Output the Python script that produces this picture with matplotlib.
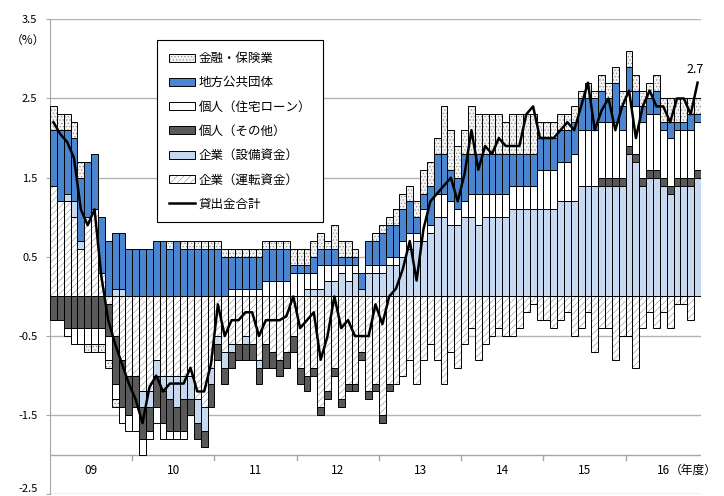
import numpy as np
import matplotlib
matplotlib.use("Agg")
import matplotlib.pyplot as plt
from matplotlib.patches import Patch
from matplotlib.lines import Line2D

plt.rcParams['font.family'] = ['Noto Sans CJK JP', 'DejaVu Sans']
plt.rcParams['axes.unicode_minus'] = False
plt.rcParams['hatch.linewidth'] = 0.45

# monthly, fiscal years 09..16 (Apr 2009 - Feb 2017), contribution to loan growth (%)
years = ["09", "10", "11", "12", "13", "14", "15", "16"]

unten = [1.4, 1.2, 1.2, 1.0, 0.6, 1.0, 1.1, 0.3, -0.1, -0.5, -0.8, -1.0,
         -1.0, -1.2, -1.2, -0.8, -1.0, -1.0, -1.0, -1.0, -1.0, -1.3, -1.4, -0.9,
         -0.5, -0.7, -0.6, -0.6, -0.5, -0.6, -0.8, -0.6, -0.7, -0.8, -0.7, -0.5,
         -0.9, -1.0, -0.9, -1.4, -1.2, -0.9, -1.3, -1.1, -1.1, -0.7, -1.2, -1.1,
         -1.5, -1.1, -1.1, -1.0, -0.8, -1.1, -0.8, -0.6, -0.8, -1.1, -0.7, -0.9,
         -0.6, -0.4, -0.8, -0.6, -0.5, -0.4, -0.5, -0.5, -0.4, -0.2, -0.1, -0.3,
         -0.3, -0.4, -0.3, -0.2, -0.5, -0.4, -0.2, -0.7, -0.4, -0.4, -0.8, -0.5,
         -0.5, -0.9, -0.4, -0.2, -0.4, -0.2, -0.4, -0.1, -0.1, -0.3, 0.0]
setsubi = [0, 0, 0.1, 0.2, 0.1, 0, 0, 0, 0, 0.1, 0.1, 0,
           0, -0.2, -0.2, -0.2, -0.2, -0.3, -0.4, -0.3, -0.3, -0.3, -0.3, -0.2,
           -0.1, -0.2, -0.1, 0, -0.1, 0, -0.1, 0, 0, 0, 0, 0,
           0, 0.1, 0.1, 0.1, 0.2, 0.2, 0.3, 0.2, 0.3, 0.1, 0.3, 0.3,
           0.3, 0.4, 0.4, 0.5, 0.6, 0.7, 0.7, 0.8, 1.0, 1.0, 0.9, 0.9,
           1.0, 1.0, 0.9, 1.0, 1.0, 1.0, 1.0, 1.1, 1.1, 1.1, 1.1, 1.1,
           1.1, 1.1, 1.2, 1.2, 1.2, 1.4, 1.4, 1.4, 1.4, 1.4, 1.4, 1.4,
           1.8, 1.7, 1.4, 1.5, 1.5, 1.4, 1.3, 1.4, 1.4, 1.4, 1.5]
sonota = [-0.3, -0.3, -0.4, -0.4, -0.4, -0.4, -0.4, -0.4, -0.4, -0.6, -0.6, -0.5,
          -0.4, -0.4, -0.3, -0.4, -0.4, -0.4, -0.3, -0.4, -0.2, -0.2, -0.2, -0.3,
          -0.2, -0.2, -0.2, -0.2, -0.2, -0.2, -0.2, -0.3, -0.2, -0.2, -0.2, -0.2,
          -0.2, -0.2, -0.1, -0.1, -0.1, -0.1, -0.1, -0.1, -0.1, -0.1, -0.1, -0.1,
          -0.1, -0.1, 0, 0, 0, 0, 0, 0, 0, 0, 0, 0,
          0, 0, 0, 0, 0, 0, 0, 0, 0, 0, 0, 0,
          0, 0, 0, 0, 0, 0, 0, 0, 0.1, 0.1, 0.1, 0.1,
          0.1, 0.1, 0.1, 0.1, 0.1, 0.1, 0.1, 0.1, 0.1, 0.1, 0.1]
jutaku = [0, 0, -0.1, -0.2, -0.2, -0.2, -0.2, -0.2, -0.3, -0.2, -0.2, -0.2,
          -0.3, -0.2, -0.1, -0.2, -0.2, -0.1, -0.1, -0.1, 0, 0, 0, 0,
          0, 0, 0.1, 0.1, 0.1, 0.1, 0.1, 0.2, 0.2, 0.2, 0.2, 0.3,
          0.3, 0.2, 0.2, 0.3, 0.2, 0.2, 0.1, 0.2, 0.1, 0, 0.1, 0.1,
          0.1, 0.1, 0.1, 0.2, 0.2, 0.1, 0.4, 0.1, 0.3, 0.3, 0.3, 0.2,
          0.2, 0.3, 0.4, 0.3, 0.3, 0.3, 0.3, 0.3, 0.3, 0.3, 0.3, 0.5,
          0.5, 0.5, 0.5, 0.5, 0.6, 0.7, 0.7, 0.7, 0.7, 0.7, 0.7, 0.6,
          0.7, 0.6, 0.7, 0.7, 0.7, 0.6, 0.6, 0.6, 0.6, 0.6, 0.6]
chiho = [0.7, 0.9, 0.8, 0.8, 0.8, 0.7, 0.7, 0.7, 0.7, 0.7, 0.7, 0.6,
         0.6, 0.6, 0.6, 0.7, 0.7, 0.6, 0.7, 0.6, 0.6, 0.6, 0.6, 0.6,
         0.6, 0.5, 0.4, 0.4, 0.4, 0.4, 0.4, 0.4, 0.4, 0.4, 0.4, 0.1,
         0.1, 0.1, 0.2, 0.2, 0.2, 0.2, 0.1, 0.1, 0.1, 0.2, 0.3, 0.3,
         0.4, 0.4, 0.4, 0.4, 0.4, 0.2, 0.2, 0.5, 0.5, 0.5, 0.4, 0.4,
         0.6, 0.5, 0.5, 0.5, 0.5, 0.5, 0.5, 0.4, 0.4, 0.4, 0.4, 0.4,
         0.4, 0.4, 0.4, 0.4, 0.4, 0.4, 0.4, 0.4, 0.4, 0.3, 0.5, 0.3,
         0.3, 0.2, 0.2, 0.2, 0.3, 0.1, 0.2, 0.1, 0.1, 0.2, 0.1]
kinyu = [0.3, 0.2, 0.2, 0.2, 0.2, -0.1, -0.1, -0.1, -0.1, -0.1, 0, 0,
         0, 0, 0, 0, 0, 0.1, 0, 0.1, 0.1, 0.1, 0.1, 0.1,
         0.1, 0.1, 0.1, 0.1, 0.1, 0.1, 0.1, 0.1, 0.1, 0.1, 0.1, 0.2,
         0.2, 0.2, 0.2, 0.2, 0.1, 0.3, 0.2, 0.2, 0.1, 0, 0, 0.1,
         0.1, 0.1, 0.2, 0.2, 0.2, 0.2, 0.3, 0.3, 0.2, 0.6, 0.5, 0.4,
         0.3, 0.6, 0.5, 0.5, 0.5, 0.5, 0.4, 0.5, 0.5, 0.5, 0.5, 0.2,
         0.2, 0.2, 0.2, 0.2, 0.2, 0.1, 0.2, 0.1, 0.2, 0.2, 0.2, 0.2,
         0.2, 0.2, 0.2, 0.2, 0.2, 0.3, 0.3, 0.3, 0.3, 0.2, 0.2]
total = [2.2, 2.05, 1.95, 1.75, 1.1, 0.9, 1.1, 0.25, -0.3, -0.6, -0.85, -1.1,
         -1.3, -1.6, -1.15, -1.0, -1.2, -1.1, -1.1, -1.1, -0.9, -1.2, -1.2, -0.85,
         -0.1, -0.5, -0.3, -0.3, -0.2, -0.2, -0.5, -0.3, -0.3, -0.3, -0.25, 0.0,
         -0.4, -0.3, -0.2, -0.8, -0.5, 0.0, -0.4, -0.3, -0.5, -0.5, -0.5, -0.1,
         -0.35, 0.0, 0.1, 0.35, 0.7, 0.2, 0.85, 1.2, 1.3, 1.4, 1.5, 1.2,
         1.55, 2.1, 1.6, 1.9, 1.8, 2.0, 1.9, 1.9, 1.9, 2.3, 2.4, 2.0,
         2.0, 2.0, 2.1, 2.2, 2.1, 2.4, 2.7, 2.1, 2.35, 2.5, 2.1, 2.4,
         2.6, 2.0, 2.4, 2.6, 2.4, 2.4, 2.2, 2.5, 2.5, 2.3, 2.7]

# stacking order (bottom -> top) with styles
series = [
    ("企業（運転資金）", unten, "white", "/////", "#9a9a9a"),
    ("企業（設備資金）", setsubi, "#c6d9f1", None, None),
    ("個人（その他）", sonota, "#595959", None, None),
    ("個人（住宅ローン）", jutaku, "white", None, None),
    ("地方公共団体", chiho, "#4a86d0", None, None),
    ("金融・保険業", kinyu, "#f2f2f2", ".....", "#8c8c8c"),
]

fig = plt.figure(figsize=(7.24, 4.96), dpi=100)
ax = fig.add_axes([50 / 724, 1 - 494.4 / 496, 651 / 724, 475.1 / 496])

n = len(total)
x = np.arange(n)
pos_base = np.zeros(n)
neg_base = np.zeros(n)
for name, vals, fc, hatch, hc in series:
    v = np.array(vals, float)
    base = np.where(v >= 0, pos_base, neg_base)
    m = v != 0
    if hatch:
        ax.bar(x[m], v[m], bottom=base[m], width=1.0, facecolor=fc, edgecolor=hc,
               hatch=hatch, linewidth=0, zorder=2)
        ax.bar(x[m], v[m], bottom=base[m], width=1.0, fill=False, edgecolor="black",
               linewidth=0.7, zorder=3)
    else:
        ax.bar(x[m], v[m], bottom=base[m], width=1.0, facecolor=fc, edgecolor="black",
               linewidth=0.7, zorder=3)
    pos_base += np.where(v > 0, v, 0)
    neg_base += np.where(v < 0, v, 0)

ax.plot(x, total, color="black", lw=1.8, zorder=5)
ax.text(93.7, 2.86, "2.7", ha="center", va="center", fontsize=9)

# axes
ax.set_xlim(-0.5, n - 0.5)
ax.set_ylim(-2.5, 3.5)
yt = [-2.5, -1.5, -0.5, 0.5, 1.5, 2.5, 3.5]
ax.set_yticks(yt)
ax.set_yticklabels([f"{t:.1f}" for t in yt], fontsize=8)
# keep the bottom label inside the picture
ax.get_yticklabels()[0].set_verticalalignment("bottom")
ax.set_xticks([])
for t in yt:
    ax.axhline(t, color="#b4b4b4", lw=1.0, zorder=1)
for s in ["top", "right", "bottom"]:
    ax.spines[s].set_visible(False)
ax.spines["left"].set_color("#a6a6a6")
ax.tick_params(axis="y", length=3, color="#a6a6a6", pad=6)

# category axis crossing at -2.0
ax.axhline(-2.0, color="#a6a6a6", lw=1.0, zorder=1)
for k in range(1, len(years)):
    ax.plot([12 * k - 0.5] * 2, [-2.0, -2.07], color="#a6a6a6", lw=1.0, clip_on=False)
for k, yr in enumerate(years):
    cx = 12 * k + 5.5 if k < len(years) - 1 else 89.0
    ax.text(cx, -2.2, yr, ha="center", va="center", fontsize=8.5)
ax.text(89.9, -2.2, "（年度）", ha="left", va="center", fontsize=8.5)
fig.text(28 / 724, 1 - 40 / 496, "（%）", ha="center", va="center", fontsize=8.5)

# legend
def pat(fc, hatch, hc):
    return (Patch(facecolor=fc, edgecolor=hc, hatch=hatch, linewidth=0),
            Patch(fill=False, edgecolor="black", linewidth=0.7))

handles, labels = [], []
for name, vals, fc, hatch, hc in reversed(series):
    if hatch:
        handles.append(pat(fc, hatch, hc))
    else:
        handles.append(Patch(facecolor=fc, edgecolor="black", linewidth=0.7))
    labels.append(name)
handles.append(Line2D([], [], color="black", lw=1.8))
labels.append("貸出金合計")

leg = ax.legend(handles, labels, loc="upper left", bbox_to_anchor=(0.164, 0.956),
                fontsize=9, frameon=True, fancybox=False, framealpha=1,
                edgecolor="black", handlelength=2.1, handleheight=0.6,
                handletextpad=0.3, labelspacing=0.9, borderpad=0.95,
                borderaxespad=0)
leg.get_frame().set_linewidth(0.8)
leg.set_zorder(10)

fig.savefig("out.png", dpi=100)
